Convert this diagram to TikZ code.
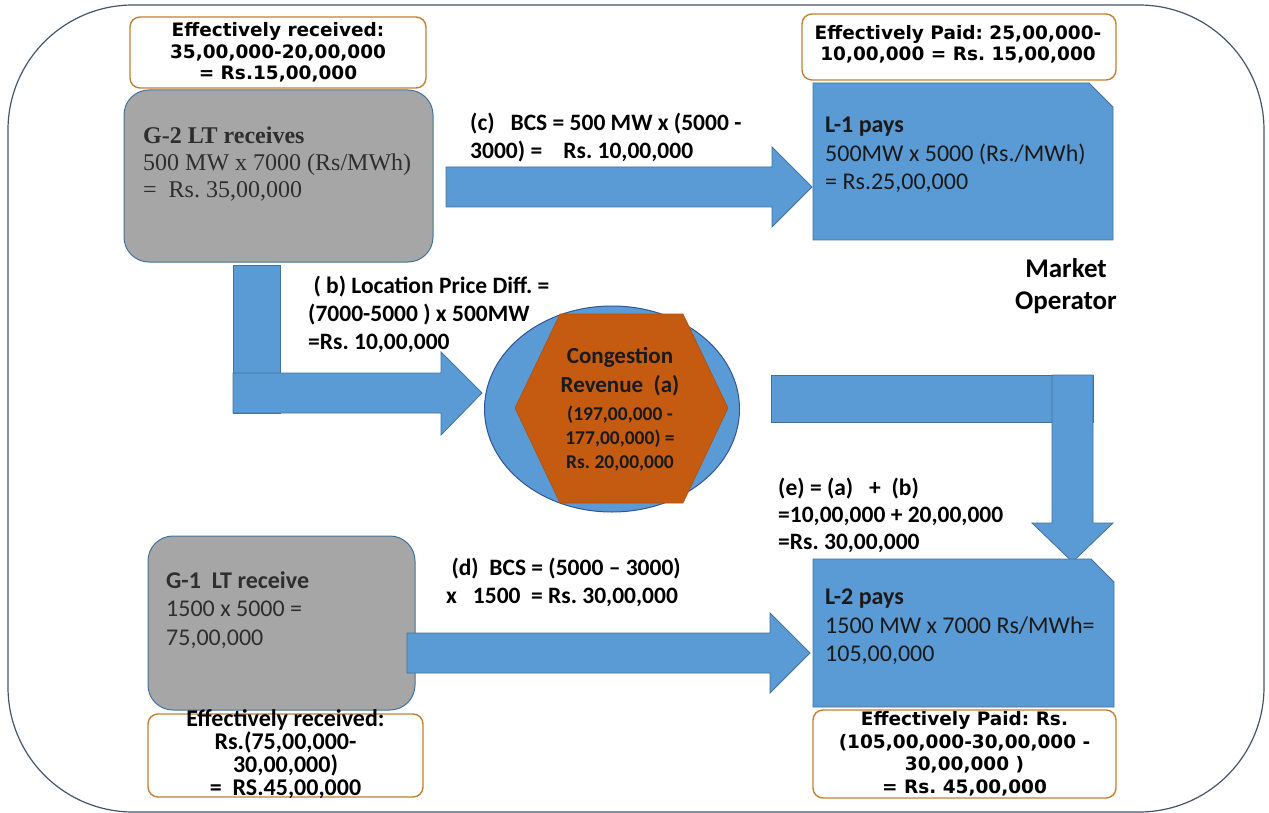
\documentclass[tikz,border=0pt]{standalone}
\usepackage{fontspec}
\setmainfont{Carlito}
\newfontfamily\verd{DejaVu Sans}
\newfontfamily\tms{Liberation Serif}
\usetikzlibrary{shapes.geometric}
\frenchspacing

\definecolor{blu}{HTML}{5B9BD5}
\definecolor{bluedge}{HTML}{41719C}
\definecolor{gry}{HTML}{A6A6A6}
\definecolor{orng}{HTML}{C4802F}
\definecolor{rust}{HTML}{C55A11}
\definecolor{elledge}{HTML}{2F5597}
\definecolor{frm}{HTML}{44546A}
\definecolor{ink}{HTML}{1A1A1A}
\definecolor{grink}{HTML}{2E2E2E}

\begin{document}
\begin{tikzpicture}[x=1pt,y=-1pt,
  frame/.style={draw=frm, line width=1.2pt, rounded corners=125pt},
  effbox/.style={draw=orng, line width=1.4pt, rounded corners=10pt, fill=white, inner sep=0pt},
  efftxtV/.style={inner sep=0pt, align=center, text=black, font=\verd\bfseries\fontsize{18.5}{21.5}\selectfont},
  efftxtC/.style={inner sep=0pt, align=center, text=black, font=\bfseries\fontsize{24}{23}\selectfont},
  graybox/.style={fill=gry, draw=bluedge, line width=1pt, rounded corners=25pt, inner sep=0pt},
  bluebox/.style={fill=blu, draw=bluedge, line width=0.8pt},
  blockarrow/.style={fill=blu, draw=bluedge, line width=0.8pt, line join=miter},
  tnode/.style={inner sep=0pt, anchor=north west, align=left},
  caption/.style={tnode, text=black, font=\bfseries\fontsize{23.5}{28}\selectfont}
]
\useasboundingbox (0,0) rectangle (1269,813);

% outer frame of the market operator
\draw[frame] (8,5) rectangle (1264,812);

% ---------- G-2 (top left) ----------
\node[effbox, minimum width=296pt, minimum height=71pt] (effA) at (278,52.5) {};
\node[efftxtV] (effAtxt) at (effA.center) {Effectively received:\\35,00,000-20,00,000\\= Rs.15,00,000};
\node[graybox, minimum width=309pt, minimum height=172pt] (g2) at (278.5,176) {};
\node[tnode, text=grink, font=\tms\fontsize{24}{27}\selectfont] (g2txt) at (143,127)
  {\textbf{G-2 LT receives}\\500 MW x 7000 (Rs/MWh)\\=~~Rs. 35,00,000};

% ---------- L-1 (top right) ----------
\node[effbox, minimum width=314pt, minimum height=66pt] (effB) at (959,47) {};
\node[efftxtV] (effBtxt) at (958,44.5) {Effectively Paid: 25,00,000-\\10,00,000 = Rs. 15,00,000};
\draw[bluebox] (813,83) -- (1089,83) -- (1113,107) -- (1113,240) -- (813,240) -- cycle;
\node[tnode, text=ink, font=\fontsize{24}{28.5}\selectfont] (l1txt) at (825,117)
  {\textbf{L-1 pays}\\500MW x 5000 (Rs./MWh)\\= Rs.25,00,000};

\node[inner sep=0pt, align=center, font=\bfseries\fontsize{27}{32}\selectfont] (mo) at (1066,286) {Market\\Operator};

% ---------- arrow (c): G-2 to L-1 ----------
\draw[blockarrow] (446,167) -- (772,167) -- (772,147) -- (812,187) -- (772,227) -- (772,207) -- (446,207) -- cycle;
\node[caption] (ctxt) at (470,112.5) {(c)~~~BCS = 500 MW x (5000 -\\3000) =~~~~Rs. 10,00,000};

% ---------- arrow (b): G-2 to congestion revenue ----------
\draw[blockarrow] (233,265) rectangle (280,413);
\draw[blockarrow] (233,373) -- (441,373) -- (441,352) -- (482,393) -- (441,435) -- (441,413) -- (233,413) -- cycle;
\node[caption] (btxt) at (308,275.5) {~( b) Location Price Diff. =\\(7000-5000 ) x 500MW\\=Rs. 10,00,000};

% ---------- congestion revenue ----------
\node[ellipse, fill=blu, draw=elledge, line width=1pt, minimum width=255pt, minimum height=206pt, inner sep=0pt] (cong) at (612,409) {};
\draw[fill=rust, draw=rust!90!black, line width=0.6pt] (560,314) -- (683,314) -- (728,408) -- (683,503) -- (560,503) -- (515,408) -- cycle;
\node[inner sep=0pt, align=center, text=ink, font=\bfseries\fontsize{23}{29}\selectfont] (congA) at (620,372) {Congestion\\Revenue~~(a)};
\node[inner sep=0pt, align=center, text=ink, font=\bfseries\fontsize{19.5}{24}\selectfont] (congB) at (620,439) {(197,00,000 -\\177,00,000) =\\Rs. 20,00,000};

% ---------- arrow (e): congestion revenue to L-2 ----------
\draw[blockarrow] (771,375) rectangle (1093,422);
\draw[blockarrow] (1052,375) -- (1093,375) -- (1093,523) -- (1113,523) -- (1072.5,562) -- (1032,523) -- (1052,523) -- cycle;
\node[caption, font=\bfseries\fontsize{23.5}{27}\selectfont] (etxt) at (778,477.5) {(e) = (a)~~~+~~(b)\\=10,00,000 + 20,00,000\\=Rs. 30,00,000};

% ---------- G-1 (bottom left) ----------
\node[graybox, minimum width=267pt, minimum height=174pt] (g1) at (281.5,623) {};
\node[tnode, text=grink, font=\fontsize{24}{28.5}\selectfont] (g1txt) at (166,571)
  {\textbf{G-1~~LT receive}\\1500 x 5000 =\\75,00,000};
\node[effbox, minimum width=275pt, minimum height=83pt] (effC) at (285.5,755.5) {};
\node[efftxtC] (effCtxt) at (285.5,754) {Effectively received:\\Rs.(75,00,000-\\30,00,000)\\=~~RS.45,00,000};

% ---------- arrow (d): G-1 to L-2 ----------
\draw[blockarrow] (407,633) -- (770,633) -- (770,613) -- (810,653) -- (770,693) -- (770,673) -- (407,673) -- cycle;
\node[caption] (dtxt) at (446,557.5) {~(d)~~BCS = (5000 – 3000)\\x~~~1500~~= Rs. 30,00,000};

% ---------- L-2 (bottom right) ----------
\draw[bluebox] (813,559) -- (1091,559) -- (1114,582) -- (1114,707) -- (813,707) -- cycle;
\node[tnode, text=ink, font=\fontsize{24}{28.5}\selectfont] (l2txt) at (825,589)
  {\textbf{L-2 pays}\\1500 MW x 7000 Rs/MWh=\\105,00,000};
\node[effbox, minimum width=303pt, minimum height=88pt] (effD) at (964.5,754) {};
\node[efftxtV, font=\verd\bfseries\fontsize{18.5}{22.5}\selectfont] (effDtxt) at (964.5,754) {Effectively Paid: Rs.\\(105,00,000-30,00,000 -\\30,00,000 )\\= Rs. 45,00,000};
\end{tikzpicture}
\end{document}
